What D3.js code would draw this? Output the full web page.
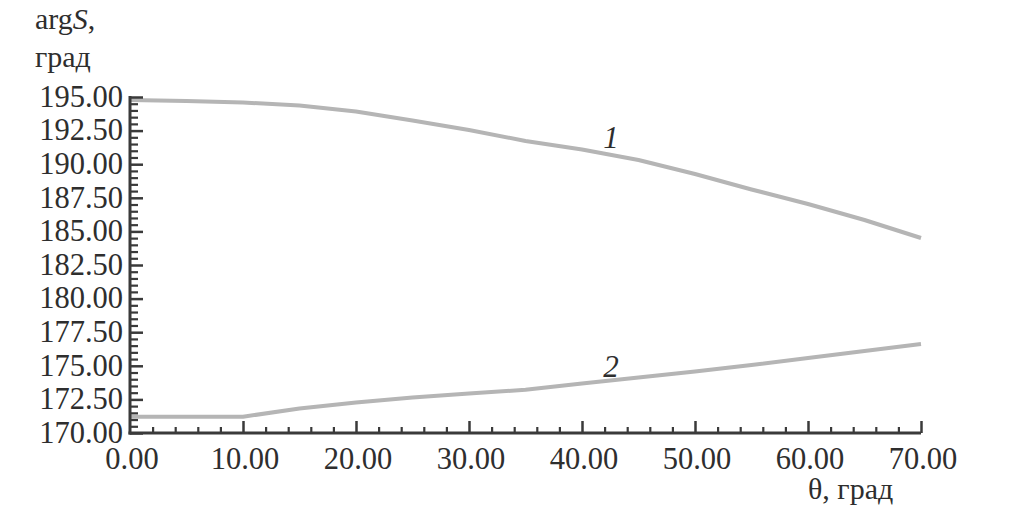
<!DOCTYPE html>
<html><head><meta charset="utf-8">
<script src="https://cdn.jsdelivr.net/npm/d3@7"></script>
<style>
html,body{margin:0;padding:0;background:#fff;}
svg text{font-family:"Liberation Serif","Times New Roman",serif;fill:#2e2e2e;}
</style></head>
<body>
<svg id="chart" width="1011" height="508"></svg>
<script>
const theta = [0,5,10,15,20,25,30,35,40,45,50,55,60,65,70];
const series1 = [194.78,194.70,194.59,194.37,193.92,193.25,192.54,191.73,191.09,190.31,189.27,188.12,187.04,185.85,184.51];
const series2 = [171.21,171.21,171.21,171.82,172.27,172.64,172.94,173.21,173.68,174.13,174.58,175.06,175.58,176.10,176.62];
const xTicks = [0,10,20,30,40,50,60,70];
const yTicks = [170,172.5,175,177.5,180,182.5,185,187.5,190,192.5,195];
const seriesLabels = ["1","2"];
const yTitle = ["arg", "S", ",", "град"];
const xTitle = "θ, град";

const svg = d3.select("#chart");
const x = d3.scaleLinear().domain([0,70]).range([130,921]);
const y = d3.scaleLinear().domain([170,195]).range([433,97]);
const axisColor = "#3a3a3a";
const fs = 30.5;

// lines
const line = d3.line().x((d,i)=>x(theta[i])).y(d=>y(d));
[series1, series2].forEach(s=>{
  svg.append("path").datum(s).attr("d", line)
    .attr("fill","none").attr("stroke","#b5b5b5").attr("stroke-width",4)
    .attr("stroke-linejoin","round");
});

// Y axis
const yAx = svg.append("g").attr("transform",`translate(${x(0)},0)`);
const yMinor = d3.range(170,195.001,0.5).filter(v=>Math.abs((v/2.5)-Math.round(v/2.5))>1e-6);
yAx.append("g").call(d3.axisRight(y).tickValues(yMinor).tickSize(8).tickFormat(""))
  .call(g=>g.select(".domain").remove())
  .call(g=>g.selectAll("line").attr("stroke",axisColor).attr("stroke-width",2.2));
yAx.append("g").call(d3.axisRight(y).tickValues(yTicks).tickSize(13).tickFormat(""))
  .call(g=>g.select(".domain").remove())
  .call(g=>g.selectAll("line").attr("stroke",axisColor).attr("stroke-width",2.5));
yAx.append("line").attr("x1",0).attr("x2",0).attr("y1",y(195)-1).attr("y2",y(170)+1.5)
  .attr("stroke",axisColor).attr("stroke-width",3);
svg.append("g").selectAll("text").data(yTicks).join("text")
  .attr("x",123).attr("y",d=>y(d)).attr("dy","0.32em")
  .attr("text-anchor","end").attr("font-size",fs)
  .text(d=>d3.format(".2f")(d));

// X axis
const xAx = svg.append("g").attr("transform",`translate(0,${y(170)})`);
const xMinor = d3.range(0,70.001,2).filter(v=>v%10!==0);
xAx.append("g").call(d3.axisTop(x).tickValues(xMinor).tickSize(6).tickFormat(""))
  .call(g=>g.select(".domain").remove())
  .call(g=>g.selectAll("line").attr("stroke",axisColor).attr("stroke-width",2.2));
xAx.append("g").call(d3.axisTop(x).tickValues(xTicks.filter(v=>v>0)).tickSize(12).tickFormat(""))
  .call(g=>g.select(".domain").remove())
  .call(g=>g.selectAll("line").attr("stroke",axisColor).attr("stroke-width",2.5));
xAx.append("line").attr("x1",x(0)-1.5).attr("x2",x(70)).attr("y1",0).attr("y2",0)
  .attr("stroke",axisColor).attr("stroke-width",3);
svg.append("g").selectAll("text").data(xTicks).join("text")
  .attr("x",d=>x(d)+2).attr("y",469)
  .attr("text-anchor","middle").attr("font-size",fs)
  .text(d=>d3.format(".2f")(d));

// titles
const yt = svg.append("text").attr("x",35).attr("y",29).attr("font-size",30);
yt.append("tspan").text(yTitle[0]);
yt.append("tspan").attr("font-style","italic").text(yTitle[1]);
yt.append("tspan").text(yTitle[2]);
svg.append("text").attr("x",35).attr("y",67).attr("font-size",30).text(yTitle[3]);
svg.append("text").attr("x",808).attr("y",499).attr("font-size",30).text(xTitle);

// series labels
svg.append("text").attr("x",611).attr("y",148).attr("text-anchor","middle")
  .attr("font-size",31).attr("font-style","italic").text(seriesLabels[0]);
svg.append("text").attr("x",611).attr("y",377).attr("text-anchor","middle")
  .attr("font-size",31).attr("font-style","italic").text(seriesLabels[1]);
</script>
</body></html>
